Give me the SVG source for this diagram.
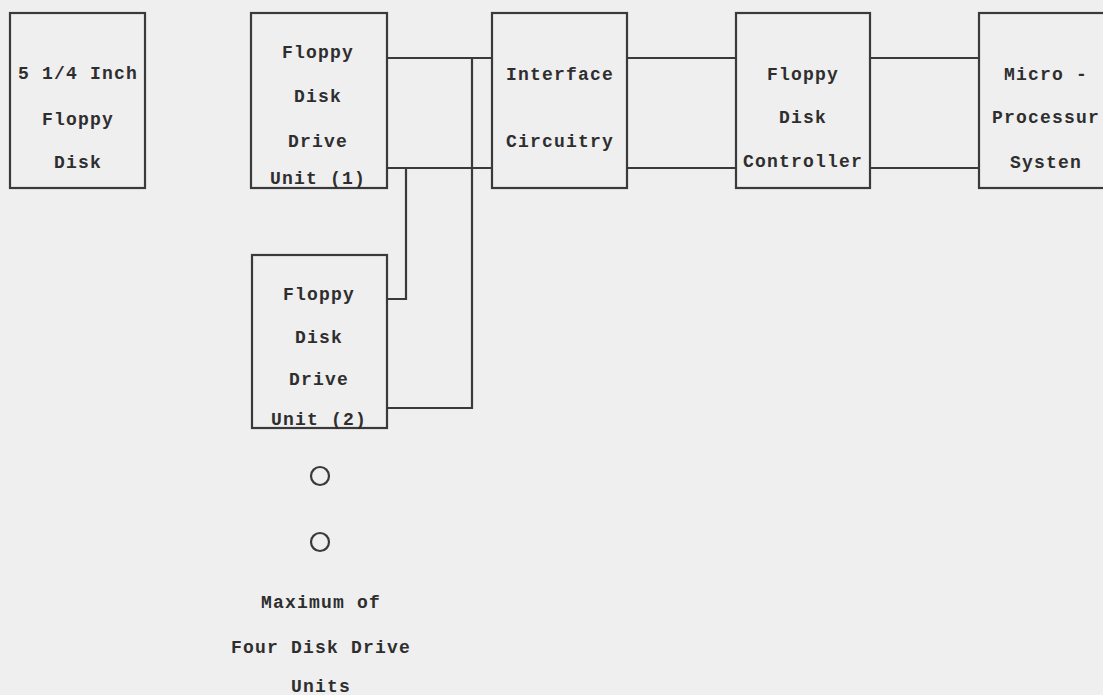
<svg xmlns="http://www.w3.org/2000/svg" width="1103" height="695" viewBox="0 0 1103 695">
<style>
.box{fill:none;stroke:#3a3a3a;stroke-width:2.2}
.ln{fill:none;stroke:#3a3a3a;stroke-width:2.2}
text{font-family:"Liberation Mono","DejaVu Sans Mono",monospace;font-weight:bold;font-size:18px;fill:#2e2e2e;text-anchor:middle;letter-spacing:1.2px}
</style>
<rect x="0" y="0" width="1103" height="695" fill="#efefef"/>
<g id="connectors">
<path class="ln" d="M387 58 H492 M387 168 H492 M472 58 V408 H387 M406 168 V299 H387"/>
<path class="ln" d="M627 58 H736 M627 168 H736"/>
<path class="ln" d="M870 58 H979 M870 168 H979"/>
</g>
<g id="floppy-disk">
<rect class="box" x="10" y="13" width="135" height="175"/>
<text x="78" y="79">5 1/4 Inch</text>
<text x="78" y="125">Floppy</text>
<text x="78" y="168">Disk</text>
</g>
<g id="drive-unit-1">
<rect class="box" x="251" y="13" width="136" height="175"/>
<text x="318" y="58">Floppy</text>
<text x="318" y="102">Disk</text>
<text x="318" y="147">Drive</text>
<text x="318" y="184">Unit (1)</text>
</g>
<g id="interface">
<rect class="box" x="492" y="13" width="135" height="175"/>
<text x="560" y="80">Interface</text>
<text x="560" y="147">Circuitry</text>
</g>
<g id="controller">
<rect class="box" x="736" y="13" width="134" height="175"/>
<text x="803" y="80">Floppy</text>
<text x="803" y="123">Disk</text>
<text x="803" y="167">Controller</text>
</g>
<g id="microprocessor">
<rect class="box" x="979" y="13" width="135" height="175"/>
<text x="1046" y="80">Micro -</text>
<text x="1046" y="123">Processur</text>
<text x="1046" y="168">Systen</text>
</g>
<g id="drive-unit-2">
<rect class="box" x="252" y="255" width="135" height="173"/>
<text x="319" y="300">Floppy</text>
<text x="319" y="343">Disk</text>
<text x="319" y="385">Drive</text>
<text x="319" y="425">Unit (2)</text>
</g>
<g id="ellipsis">
<circle class="box" cx="320" cy="476" r="9"/>
<circle class="box" cx="320" cy="542" r="9"/>
</g>
<g id="note">
<text x="321" y="608">Maximum of</text>
<text x="321" y="653">Four Disk Drive</text>
<text x="321" y="692">Units</text>
</g>
</svg>
